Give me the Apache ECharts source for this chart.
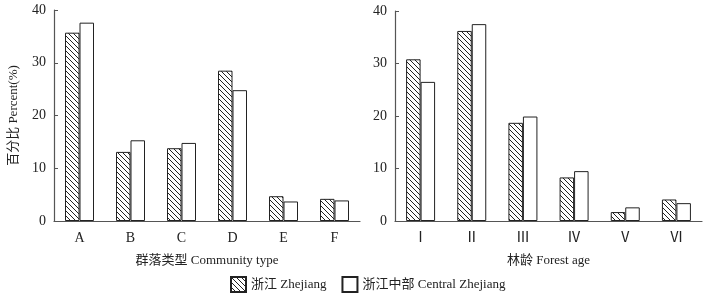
<!DOCTYPE html>
<html>
<head>
<meta charset="utf-8">
<script src="https://cdn.jsdelivr.net/npm/echarts@6/dist/echarts.min.js"></script>
<style>
  html, body { margin: 0; padding: 0; background: #fff; }
  #chart { width: 707px; height: 302px; }
</style>
</head>
<body>
<div id="chart"></div>
<script>
  const communityTypes = ['A', 'B', 'C', 'D', 'E', 'F'];
  const forestAges = ['Ⅰ', 'Ⅱ', 'Ⅲ', 'Ⅳ', 'Ⅴ', 'Ⅵ'];
  const yTicks = [0, 10, 20, 30, 40];

  const zhejiangCommunity = [35.7, 13.1, 13.8, 28.5, 4.7, 4.2];
  const centralCommunity = [37.6, 15.3, 14.8, 24.8, 3.7, 3.9];
  const zhejiangAge = [30.8, 36.2, 18.7, 8.3, 1.7, 4.1];
  const centralAge = [26.5, 37.5, 19.9, 9.5, 2.6, 3.4];

  const seriesNames = ['浙江 Zhejiang', '浙江中部 Central Zhejiang'];

  const font = '"Liberation Serif", "Times New Roman", "Noto Sans CJK SC", serif';

  function hatch() {
    const c = document.createElement('canvas');
    c.width = 5;
    c.height = 5;
    const ctx = c.getContext('2d');
    ctx.fillStyle = '#fff';
    ctx.fillRect(0, 0, 5, 5);
    ctx.strokeStyle = '#222';
    ctx.lineWidth = 1;
    ctx.beginPath();
    ctx.moveTo(-1, -1);
    ctx.lineTo(6, 6);
    ctx.moveTo(-1, 4);
    ctx.lineTo(1, 6);
    ctx.moveTo(4, -1);
    ctx.lineTo(6, 1);
    ctx.stroke();
    return c;
  }

  const hatchFill = { image: hatch(), repeat: 'repeat' };

  function xAxis(gridIndex, data, name) {
    return {
      type: 'category',
      gridIndex: gridIndex,
      data: data,
      name: name,
      nameLocation: 'middle',
      nameGap: 33,
      nameTextStyle: { fontFamily: font, fontSize: 13, color: '#222' },
      axisLine: { lineStyle: { color: '#555', width: 1.2 } },
      axisTick: { inside: true, length: 4, lineStyle: { color: '#555' } },
      axisLabel: { fontFamily: font, fontSize: 14, color: '#222', margin: 10 }
    };
  }

  function yAxis(gridIndex, name) {
    return {
      type: 'value',
      gridIndex: gridIndex,
      min: yTicks[0],
      max: yTicks[yTicks.length - 1],
      interval: 10,
      name: name,
      nameLocation: 'middle',
      nameGap: 34,
      nameTextStyle: { fontFamily: font, fontSize: 13, color: '#222' },
      axisLine: { show: true, lineStyle: { color: '#555', width: 1.2 } },
      axisTick: { show: true, inside: true, length: 4, lineStyle: { color: '#555' } },
      axisLabel: { fontFamily: font, fontSize: 14, color: '#222', margin: 8 },
      splitLine: { show: false }
    };
  }

  function bar(name, data, idx, patterned) {
    return {
      type: 'bar',
      name: name,
      data: data,
      xAxisIndex: idx,
      yAxisIndex: idx,
      barWidth: 14.5,
      barGap: '0%',
      itemStyle: {
        color: patterned ? hatchFill : '#fff',
        borderColor: '#222',
        borderWidth: 1
      },
      emphasis: { disabled: true }
    };
  }

  const chart = echarts.init(document.getElementById('chart'));
  chart.setOption({
    animation: false,
    backgroundColor: '#fff',
    grid: [
      { left: 54, top: 10, width: 306, height: 211 },
      { left: 395, top: 11, width: 307, height: 210 }
    ],
    xAxis: [
      xAxis(0, communityTypes, '群落类型 Community type'),
      xAxis(1, forestAges, '林龄 Forest age')
    ],
    yAxis: [
      yAxis(0, '百分比 Percent(%)'),
      yAxis(1, '')
    ],
    legend: {
      left: 225,
      top: 271,
      icon: 'rect',
      itemWidth: 15,
      itemHeight: 15,
      itemGap: 15,
      textStyle: { fontFamily: font, fontSize: 13, color: '#222' },
      data: seriesNames
    },
    series: [
      bar(seriesNames[0], zhejiangCommunity, 0, true),
      bar(seriesNames[1], centralCommunity, 0, false),
      bar(seriesNames[0], zhejiangAge, 1, true),
      bar(seriesNames[1], centralAge, 1, false)
    ]
  });
</script>
</body>
</html>
